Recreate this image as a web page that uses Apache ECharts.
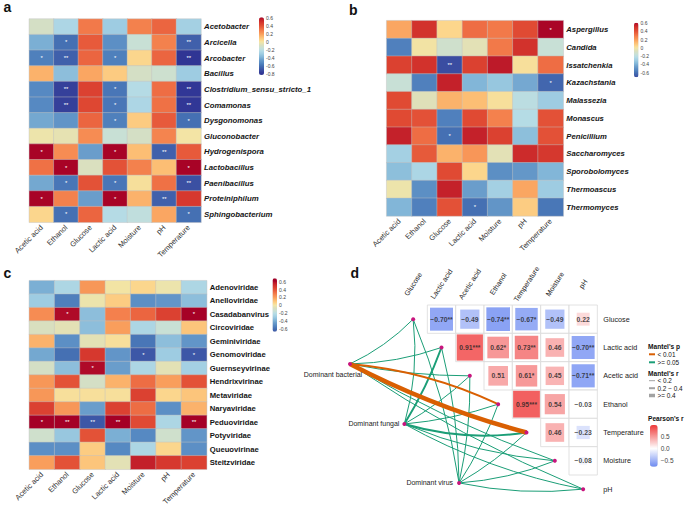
<!DOCTYPE html>
<html><head><meta charset="utf-8">
<script src="https://cdn.jsdelivr.net/npm/echarts@6/dist/echarts.min.js"></script>
<style>html,body{margin:0;padding:0;background:#fff}#c{width:685px;height:508px}</style>
</head><body><div id="c"></div>
<script>
// ---------------- DATA ----------------
const envCols = ['Acetic acid','Ethanol','Glucose','Lactic acid','Moisture','pH','Temperature'];

const bacteriaRows = ['Acetobacter','Arcicella','Arcobacter','Bacillus','Clostridium_sensu_stricto_1','Comamonas','Dysgonomonas','Gluconobacter','Hydrogenispora','Lactobacillus','Paenibacillus','Proteiniphilum','Sphingobacterium'];
const bacteriaR = [
  [-0.10,-0.25, 0.30,-0.30, 0.28, 0.35,-0.28],
  [-0.40,-0.60, 0.38,-0.50,-0.15, 0.28,-0.65],
  [-0.55,-0.65, 0.35,-0.55, 0.05, 0.35,-0.80],
  [ 0.15,-0.35, 0.18, 0.08,-0.10,-0.13,-0.30],
  [-0.52,-0.75, 0.45,-0.58,-0.22, 0.33,-0.78],
  [-0.52,-0.75, 0.43,-0.58,-0.25, 0.32,-0.78],
  [-0.42,-0.48, 0.35,-0.55, 0.08, 0.38,-0.60],
  [-0.02,-0.04, 0.25,-0.15,-0.10, 0.27, 0.00],
  [ 0.62, 0.25,-0.45, 0.62, 0.12,-0.65, 0.38],
  [ 0.32, 0.62,-0.08, 0.40, 0.28, 0.12, 0.62],
  [-0.42,-0.58, 0.40,-0.58, 0.02, 0.32,-0.70],
  [ 0.62, 0.28,-0.45, 0.62, 0.15,-0.65, 0.48],
  [ 0.05,-0.60, 0.35,-0.22,-0.18, 0.18,-0.60]
];
const bacteriaSig = [
  ['','','','','','',''],
  ['','*','','','','','**'],
  ['*','**','','*','','','**'],
  ['','','','','','',''],
  ['','**','','*','','','**'],
  ['','**','','*','','','**'],
  ['','','','*','','','*'],
  ['','','','','','',''],
  ['*','','','*','','**',''],
  ['','*','','','','','*'],
  ['','*','','*','','','**'],
  ['*','','','*','','**',''],
  ['','*','','','','','*']
];

const fungiRows = ['Aspergillus','Candida','Issatchenkia','Kazachstania','Malassezia','Monascus','Penicillium','Saccharomyces','Sporobolomyces','Thermoascus','Thermomyces'];
const fungiR = [
  [ 0.18, 0.50, 0.05, 0.33, 0.30, 0.42, 0.62],
  [-0.55, 0.00,-0.12,-0.05, 0.30, 0.50,-0.15],
  [ 0.45, 0.50,-0.75, 0.45, 0.57, 0.02, 0.33],
  [-0.15,-0.55, 0.55,-0.38,-0.32,-0.42,-0.63],
  [ 0.42,-0.06, 0.15, 0.12, 0.02,-0.20,-0.30],
  [ 0.42, 0.40,-0.55, 0.42, 0.28,-0.22, 0.40],
  [ 0.55, 0.33,-0.60, 0.55, 0.45,-0.35, 0.40],
  [-0.28, 0.38, 0.15, 0.22,-0.05, 0.52, 0.48],
  [-0.35,-0.25, 0.42, 0.05,-0.50,-0.47,-0.38],
  [-0.02,-0.50, 0.55,-0.45,-0.28, 0.18,-0.30],
  [-0.38,-0.55, 0.40,-0.60,-0.48, 0.08,-0.58]
];
const fungiSig = [
  ['','','','','','','*'],
  ['','','','','','',''],
  ['','','**','','','',''],
  ['','','','','','','*'],
  ['','','','','','',''],
  ['','','','','','',''],
  ['','','*','','','',''],
  ['','','','','','',''],
  ['','','','','','',''],
  ['','','','','','',''],
  ['','','','*','','','']
];

const virusRows = ['Adenoviridae','Anelloviridae','Casadabanvirus','Circoviridae','Geminiviridae','Genomoviridae','Guernseyvirinae','Hendrixvirinae','Metaviridae','Naryaviridae','Peduoviridae','Potyviridae','Queuovirinae','Steitzviridae'];
const virusR = [
  [-0.40,-0.25, 0.22, 0.00, 0.05,-0.02,-0.25],
  [-0.30,-0.55,-0.02, 0.08,-0.50,-0.48,-0.35],
  [ 0.25, 0.60,-0.35, 0.28, 0.35, 0.45, 0.62],
  [-0.08,-0.05,-0.35, 0.20,-0.25,-0.15, 0.10],
  [ 0.15,-0.50,-0.05, 0.02,-0.58,-0.35,-0.48],
  [-0.42,-0.60, 0.48,-0.48,-0.72,-0.30,-0.72],
  [-0.10,-0.35, 0.60,-0.45,-0.25,-0.05,-0.28],
  [ 0.22, 0.40,-0.10, 0.15, 0.33, 0.20, 0.40],
  [ 0.22, 0.02, 0.02, 0.02, 0.45, 0.05, 0.10],
  [ 0.45, 0.22,-0.45, 0.45, 0.33,-0.50, 0.15],
  [ 0.68, 0.68,-0.72, 0.68, 0.42,-0.25, 0.68],
  [-0.12,-0.32, 0.40,-0.40,-0.52,-0.12,-0.48],
  [-0.50,-0.50, 0.08,-0.52,-0.25, 0.05,-0.50],
  [ 0.20, 0.40, 0.10,-0.05, 0.55, 0.48, 0.45]
];
const virusSig = [
  ['','','','','','',''],
  ['','','','','','',''],
  ['','*','','','','','*'],
  ['','','','','','',''],
  ['','','','','','',''],
  ['','','','','*','','*'],
  ['','','*','','','',''],
  ['','','','','','',''],
  ['','','','','','',''],
  ['','','','','','',''],
  ['*','**','**','**','','','**'],
  ['','','','','','',''],
  ['','','','','','',''],
  ['','','','','','','']
];

// colour-bar ranges and tick labels
const bacteriaScale = [-0.825, 0.615];
const fungiScale = [-0.71, 0.61];
const virusScale = [-0.677, 0.687];
const bacteriaTicks = [0.6, 0.4, 0.2, 0, -0.2, -0.4, -0.6, -0.8];
const fungiTicks = [0.6, 0.4, 0.2, 0, -0.2, -0.4, -0.6];
const virusTicks = [0.6, 0.4, 0.2, 0, -0.2, -0.4, -0.6];

// panel d
const envVars = ['Glucose','Lactic acid','Acetic acid','Ethanol','Temperature','Moisture','pH'];
// [column index, row index, Pearson's r, significance]
const pearsonCells = [
  [1,0,-0.70,'**'],[2,0,-0.49,''],[3,0,-0.74,'**'],[4,0,-0.67,'*'],[5,0,-0.49,''],[6,0,0.22,''],
  [2,1,0.91,'***'],[3,1,0.62,'*'],[4,1,0.73,'**'],[5,1,0.46,''],[6,1,-0.70,'**'],
  [3,2,0.51,''],[4,2,0.61,'*'],[5,2,0.45,''],[6,2,-0.71,'**'],
  [4,3,0.95,'***'],[5,3,0.54,''],[6,3,-0.03,''],
  [5,4,0.46,''],[6,4,-0.23,''],
  [6,5,-0.08,'']
];
const pearsonScale = [-0.74, 0.95];
const pearsonTicks = [0.5, 0, -0.5];
const mantelSources = ['Dominant bacterial','Dominant fungal','Dominant virus'];
// Mantel's r and p per source, in envVars order
const mantelR = [
  [0.10,0.10,0.10,0.30,0.50,0.10,0.10],
  [0.10,0.30,0.10,0.10,0.30,0.10,0.10],
  [0.10,0.10,0.10,0.10,0.10,0.10,0.10]
];
const mantelP = [
  [0.50,0.50,0.50,0.005,0.001,0.50,0.50],
  [0.50,0.50,0.50,0.50,0.50,0.50,0.50],
  [0.50,0.50,0.50,0.50,0.50,0.50,0.50]
];

// ---------------- LAYOUT / STYLE ----------------
const FONT = '"Liberation Sans", Arial, sans-serif';
const dCell = 198.33 / 7;
const domPos = [[-2.23, 1.58], [-0.31, 3.70], [1.62, 5.78]];
const domLabel = [
  {position:'bottom', distance:1, offset:[-17, 4]},
  {position:'left', distance:3},
  {position:'left', distance:4}
];
// curvature of each Mantel edge (style), per source, in envVars order
const edgeCurve = [
  [-0.09,-0.08,-0.05, 0.09,-0.055,-0.05,-0.05],
  [-0.10,-0.05,-0.06,-0.06,-0.11,-0.08,-0.08],
  [-0.06,-0.06,-0.06,-0.06,-0.06,-0.08,-0.08]
];

const heatAnchors = [[-0.9,'#2E3190'],[-0.78,'#313695'],[-0.7,'#3B50A3'],[-0.6,'#4570B3'],[-0.52,'#5689C2'],[-0.45,'#6A9DCB'],[-0.38,'#82B6D8'],[-0.3,'#9FCCE2'],[-0.22,'#B5DCE6'],[-0.15,'#C8E0D6'],[-0.08,'#D9DFBF'],[0.0,'#F3E5A5'],[0.05,'#FCD68C'],[0.12,'#FCBE74'],[0.2,'#F99E5C'],[0.28,'#F4814D'],[0.35,'#EB6540'],[0.42,'#E04A33'],[0.5,'#D2322C'],[0.57,'#BE1A29'],[0.62,'#A50026'],[0.8,'#A50026']];
const pearsonAnchors = [[-1,'#3A62EC'],[0,'#FFFFFF'],[1,'#EE2D2D']];

function hex2rgb(h){ return [parseInt(h.substr(1,2),16), parseInt(h.substr(3,2),16), parseInt(h.substr(5,2),16)]; }
function rgb2hex(c){ return '#' + c.map(v => Math.round(v).toString(16).padStart(2,'0')).join(''); }
function rampColor(anchors, v){
  if (v <= anchors[0][0]) return anchors[0][1];
  for (let k = 1; k < anchors.length; k++) {
    if (v <= anchors[k][0]) {
      const t = (v - anchors[k-1][0]) / (anchors[k][0] - anchors[k-1][0]);
      const a = hex2rgb(anchors[k-1][1]), b = hex2rgb(anchors[k][1]);
      return rgb2hex(a.map((x, i) => x + (b[i] - x) * t));
    }
  }
  return anchors[anchors.length-1][1];
}
function sampleRamp(anchors, range, n){
  const out = [];
  for (let k = 0; k < n; k++) out.push(rampColor(anchors, range[0] + (range[1]-range[0]) * k / (n-1)));
  return out;
}
function heatData(values){ const out = []; values.forEach((row, r) => row.forEach((v, c) => out.push([c, r, v]))); return out; }
function fmtTick(v){ return v === 0 ? '0' : String(v); }
function fmtMinus(v, d){ return (v < 0 ? '\u2212' : '') + Math.abs(v).toFixed(d); }

// grids: 0 a, 1 b, 2 c, 3 cb-a, 4 cb-b, 5 cb-c, 6 d cells, 7 d network, 8 cb-d
const grids = [
  {left:29.3, top:19, width:171.7, height:203.3},
  {left:386.7, top:20.7, width:176.6, height:195.3},
  {left:29.3, top:280.7, width:177.4, height:195.3},
  {left:259, top:17.3, width:5, height:57.7},
  {left:634, top:22.7, width:4.5, height:54.6},
  {left:272.5, top:278.3, width:4.5, height:53.4},
  {left:399, top:305, width:198.33, height:198.33},
  {left:314, top:305, width:283.33, height:198.33},
  {left:650, top:425, width:7.7, height:41.7}
];

function heatX(g){ return {type:'category', gridIndex:g, data:envCols, position:'bottom',
  axisLine:{show:false}, axisTick:{show:false}, splitLine:{show:false},
  axisLabel:{rotate:45, interval:0, fontSize:7.5, color:'#333', margin:4, fontFamily:FONT}}; }
function heatY(g, rows, italic, size){ return {type:'category', gridIndex:g, data:rows, inverse:true, position:'right',
  axisLine:{show:false}, axisTick:{show:false}, splitLine:{show:false},
  axisLabel:{interval:0, fontSize:size, fontWeight:'bold', fontStyle: italic ? 'italic' : 'normal', color:'#151515', margin:3, fontFamily:FONT}}; }
function cbX(g){ return {type:'value', gridIndex:g, show:false, min:0, max:1}; }
function cbY(g, range, ticks, fmt, size, margin){ return {type:'value', gridIndex:g, min:range[0], max:range[1], position:'right',
  axisLine:{show:false}, axisTick:{show:false}, splitLine:{show:false},
  axisLabel:{customValues:ticks, formatter:fmt, fontSize:size, color:'#444', margin:margin, fontFamily:FONT}}; }

const xAxes = [heatX(0), heatX(1), heatX(2), cbX(3), cbX(4), cbX(5),
  {type:'category', gridIndex:6, data:envVars, position:'top', axisLine:{show:false}, axisTick:{show:false}, splitLine:{show:false},
   axisLabel:{rotate:-57, interval:0, fontSize:7.2, color:'#222', margin:21, align:'center', verticalAlign:'middle', fontFamily:FONT}},
  {type:'value', gridIndex:7, show:false, min:-3.5, max:6.5},
  cbX(8)];
const yAxes = [heatY(0, bacteriaRows, true, 7.8), heatY(1, fungiRows, true, 7.7), heatY(2, virusRows, false, 7.7),
  cbY(3, bacteriaScale, bacteriaTicks, fmtTick, 5, 2), cbY(4, fungiScale, fungiTicks, fmtTick, 5, 2), cbY(5, virusScale, virusTicks, fmtTick, 5, 2),
  {type:'category', gridIndex:6, data:envVars, inverse:true, position:'right', axisLine:{show:false}, axisTick:{show:false}, splitLine:{show:false},
   axisLabel:{interval:0, fontSize:7.2, color:'#222', margin:6, fontFamily:FONT}},
  {type:'value', gridIndex:7, show:false, min:-0.5, max:6.5, inverse:true},
  cbY(8, pearsonScale, pearsonTicks, v => v === 0 ? '0.0' : fmtMinus(v, 1), 6.5, 3)];

function heatSeries(g, values, sig){ return {type:'heatmap', xAxisIndex:g, yAxisIndex:g, data:heatData(values), silent:true,
  itemStyle:{borderColor:'rgba(195,195,195,0.75)', borderWidth:0.6},
  label:{show:true, color:'#fff', fontSize:6, fontFamily:FONT, formatter: p => sig[p.value[1]][p.value[0]]},
  emphasis:{disabled:true}}; }

const gridCells = pearsonCells.map(c => [c[0], c[1]]);

const graphNodes = envVars.map((n, i) => ({name:n, value:[i, i], label:{show:false}}))
  .concat(mantelSources.map((s, k) => ({name:s, value:domPos[k],
    label:Object.assign({show:true, color:'#222', fontSize:7, fontFamily:FONT}, domLabel[k])})));
const links = [];
mantelSources.forEach((s, k) => envVars.forEach((e, i) => {
  const p = mantelP[k][i], r = mantelR[k][i];
  links.push({source:s, target:e, sig: p < 0.01 ? 1 : 0, lineStyle:{
    color: p < 0.01 ? '#D95F02' : '#1B9E77',
    width: r < 0.2 ? 1 : (r < 0.4 ? 2 : 4.5),
    curveness: edgeCurve[k][i], opacity: 1}});
}));
links.sort((a, b) => a.sig - b.sig);

const series = [
  heatSeries(0, bacteriaR, bacteriaSig),
  heatSeries(1, fungiR, fungiSig),
  heatSeries(2, virusR, virusSig),
  {type:'scatter', xAxisIndex:6, yAxisIndex:6, data:gridCells, symbol:'rect', symbolSize:dCell, silent:true,
   itemStyle:{color:'#fff', borderColor:'#DADADA', borderWidth:1}, emphasis:{disabled:true}, z:1},
  {type:'scatter', xAxisIndex:6, yAxisIndex:6, data:pearsonCells.map(c => [c[0], c[1], c[2]]), symbol:'rect', silent:true,
   symbolSize: v => dCell * Math.sqrt(Math.abs(v[2])) * 0.97, emphasis:{disabled:true}, z:2,
   label:{show:true, position:'inside', fontSize:6.8, fontWeight:'bold', color:'#222', fontFamily:FONT,
     formatter: p => fmtMinus(p.value[2], 2) + pearsonCells[p.dataIndex][3]}},
  {type:'graph', coordinateSystem:'cartesian2d', xAxisIndex:7, yAxisIndex:7, layout:'none', silent:true,
   symbol:'circle', symbolSize:4, itemStyle:{color:'#C8157E'}, edgeSymbol:['none','none'],
   data:graphNodes, links:links, emphasis:{disabled:true}, z:3}
];

const visualMaps = [
  {type:'continuous', seriesIndex:0, dimension:2, min:bacteriaScale[0], max:bacteriaScale[1], calculable:false, left:259, top:17.3, itemWidth:5, itemHeight:57.7, padding:0, text:null, inRange:{color:sampleRamp(heatAnchors, bacteriaScale, 60)}},
  {type:'continuous', seriesIndex:1, dimension:2, min:fungiScale[0], max:fungiScale[1], calculable:false, left:634, top:22.7, itemWidth:4.5, itemHeight:54.6, padding:0, text:null, inRange:{color:sampleRamp(heatAnchors, fungiScale, 60)}},
  {type:'continuous', seriesIndex:2, dimension:2, min:virusScale[0], max:virusScale[1], calculable:false, left:272.5, top:278.3, itemWidth:4.5, itemHeight:53.4, padding:0, text:null, inRange:{color:sampleRamp(heatAnchors, virusScale, 60)}},
  {type:'continuous', seriesIndex:4, dimension:2, min:pearsonScale[0], max:pearsonScale[1], calculable:false, left:650, top:425, itemWidth:7.7, itemHeight:41.7, padding:0, text:null, inRange:{color:sampleRamp(pearsonAnchors, pearsonScale, 40)}}
];

function txt(x, y, s, size, weight, align, va){ return {type:'text', x:x, y:y, silent:true,
  style:{text:s, fontSize:size, fontWeight:weight||'normal', fontFamily:FONT, fill:'#111', align:align||'left', verticalAlign:va||'middle'}}; }
function seg(x1, x2, y, color, w){ return {type:'line', silent:true, shape:{x1:x1, y1:y, x2:x2, y2:y}, style:{stroke:color, lineWidth:w}}; }

const graphics = [
  txt(3.5, 14.2, 'a', 14, 'bold', 'left', 'bottom'),
  txt(349, 17, 'b', 14, 'bold', 'left', 'bottom'),
  txt(3.5, 280, 'c', 14, 'bold', 'left', 'bottom'),
  txt(350.5, 280, 'd', 14, 'bold', 'left', 'bottom'),
  txt(648, 346, "Mantel's p", 6.6, 'bold'),
  seg(649, 655, 354.3, '#D95F02', 2),
  txt(657.5, 354.3, '< 0.01', 6.4),
  seg(649, 655, 362.3, '#1B9E77', 2),
  txt(657.5, 362.3, '>= 0.05', 6.4),
  txt(648, 373.3, "Mantel's r", 6.6, 'bold'),
  seg(649, 655, 380.7, '#A2A2A2', 1),
  txt(657.5, 380.7, '< 0.2', 6.4),
  seg(649, 655, 388.2, '#A2A2A2', 2),
  txt(657.5, 388.2, '0.2 \u2212 0.4', 6.4),
  seg(649, 655, 395.5, '#A2A2A2', 3.5),
  txt(657.5, 395.5, '>= 0.4', 6.4),
  txt(648, 418.3, "Pearson's r", 6.6, 'bold')
];

const chart = echarts.init(document.getElementById('c'), null, {renderer:'svg', width:685, height:508});
chart.setOption({
  animation:false,
  backgroundColor:'#fff',
  textStyle:{fontFamily:FONT},
  grid:grids, xAxis:xAxes, yAxis:yAxes, visualMap:visualMaps, series:series, graphic:graphics
});
</script></body></html>
